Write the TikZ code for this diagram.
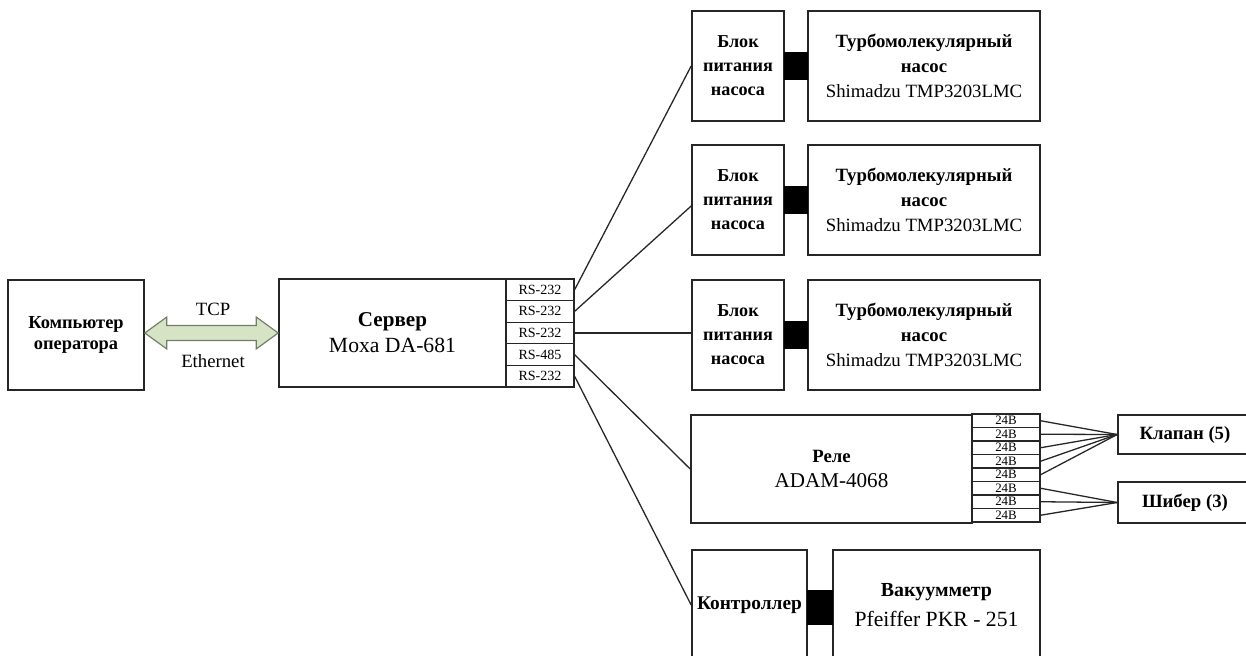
\documentclass[tikz,border=0pt]{standalone}
\usepackage{fontspec}
\setmainfont{Liberation Serif}
\usetikzlibrary{calc}
\definecolor{linec}{HTML}{262626}
\definecolor{arrfill}{RGB}{215,227,197}
\definecolor{arrdraw}{RGB}{115,125,105}
\begin{document}
\begin{tikzpicture}[x=0.03cm,y=-0.03cm,
  box/.style={draw=linec, line width=1.4pt, fill=white, inner sep=0pt, align=center},
  port/.style={draw=linec, line width=1pt, fill=white, inner sep=0pt},
  conn/.style={draw=linec, line width=1.1pt},
  blk/.style={fill=black, inner sep=0pt},
  bfa/.style={font=\fontsize{15.5}{20.5}\selectfont\bfseries},
  arr/.style={draw=arrdraw, fill=arrfill, line width=1pt, line join=miter},
  lbl/.style={font=\fontsize{16}{18}\selectfont, inner sep=0pt}]
\useasboundingbox (0,0) rectangle (1246,656);

% computer
\node[box, minimum width=136*0.03cm, minimum height=110*0.03cm,
      font=\fontsize{15.7}{18}\selectfont\bfseries] (comp) at (76,335) {Компьютер\\оператора};

% server
\node[box, minimum width=227*0.03cm, minimum height=108*0.03cm,
      font=\fontsize{18}{22}\selectfont] (srv) at (392.5,333)
      {{\bfseries Сервер}\\{\fontsize{18.5}{22}\selectfont Moxa DA-681}};
\foreach \i/\t in {1/RS-232,2/RS-232,3/RS-232,4/RS-485,5/RS-232}
  \node[port, minimum width=68*0.03cm, minimum height=21.6*0.03cm,
        font=\fontsize{12}{12}\selectfont] (sp\i) at (540,{279+21.6*\i-10.8}) {\t};

% arrow
\coordinate (aL) at (comp.east |- srv.west);
\coordinate (aR) at (srv.west);
\draw[arr] (aL) -- ($(aL)+(22,-16)$) -- ($(aL)+(22,-7.5)$) -- ($(aR)+(-22,-7.5)$)
  -- ($(aR)+(-22,-16)$) -- (aR) -- ($(aR)+(-22,16)$) -- ($(aR)+(-22,7.5)$)
  -- ($(aL)+(22,7.5)$) -- ($(aL)+(22,16)$) -- cycle;
\node[lbl] (tcp) at (213,309) {TCP};
\node[lbl] (eth) at (213,361) {Ethernet};

% pumps
\foreach \i/\y in {1/66,2/200,3/335}{
  \node[box, bfa, minimum width=92*0.03cm, minimum height=110*0.03cm] (bp\i) at (738,\y) {Блок\\питания\\насоса};
  \node[box, minimum width=232*0.03cm, minimum height=110*0.03cm,
        font=\fontsize{16}{21.5}\selectfont] (tp\i) at (924,\y)
        {{\bfseries Турбомолекулярный}\\{\bfseries насос}\\Shimadzu TMP3203LMC};
  \node[blk, minimum width=24*0.03cm, minimum height=28*0.03cm] (cn\i) at (796,\y) {};
}

% relay
\node[box, minimum width=281*0.03cm, minimum height=108*0.03cm,
      font=\fontsize{18}{22}\selectfont] (relay) at (831.5,469)
      {{\bfseries\fontsize{16}{22}\selectfont Реле}\\ADAM-4068};
\foreach \i in {1,...,8}
  \node[port, minimum width=68*0.03cm, minimum height=13.5*0.03cm,
        font=\fontsize{11}{11}\selectfont] (rp\i) at (1006,{414+13.5*\i-6.75}) {24В};

\node[box, minimum width=134*0.03cm, minimum height=39*0.03cm,
      font=\fontsize{16}{18}\selectfont\bfseries] (kl) at (1185,434.5) {Клапан (5)};
\node[box, minimum width=134*0.03cm, minimum height=41*0.03cm,
      font=\fontsize{16}{18}\selectfont\bfseries] (sh) at (1185,502.5) {Шибер (3)};

% controller and gauge
\node[box, minimum width=115*0.03cm, minimum height=110*0.03cm,
      font=\fontsize{16.5}{18}\selectfont\bfseries] (ctrl) at (749.5,605) {Контроллер};
\node[box, minimum width=207*0.03cm, minimum height=110*0.03cm,
      font=\fontsize{18.5}{25}\selectfont] (vac) at (936.5,605)
      {{\bfseries\fontsize{17}{25}\selectfont Вакуумметр}\\Pfeiffer PKR - 251};
\node[blk, minimum width=26*0.03cm, minimum height=35*0.03cm] (cnv) at (820,607) {};

% connectors
\draw[conn] (sp1.east) -- (bp1.west);
\draw[conn] (sp2.east) -- ($(bp2.west)+(0,6)$);
\draw[conn] (sp3.east) -- (sp3.east -| bp3.west);
\draw[conn] (sp4.east) -- (relay.west);
\draw[conn] (sp5.east) -- (ctrl.west);
\foreach \i in {1,...,5} \draw[conn] (rp\i.east) -- (kl.west);
\foreach \i in {6,7,8} \draw[conn] (rp\i.east) -- (sh.west);
\end{tikzpicture}
\end{document}
